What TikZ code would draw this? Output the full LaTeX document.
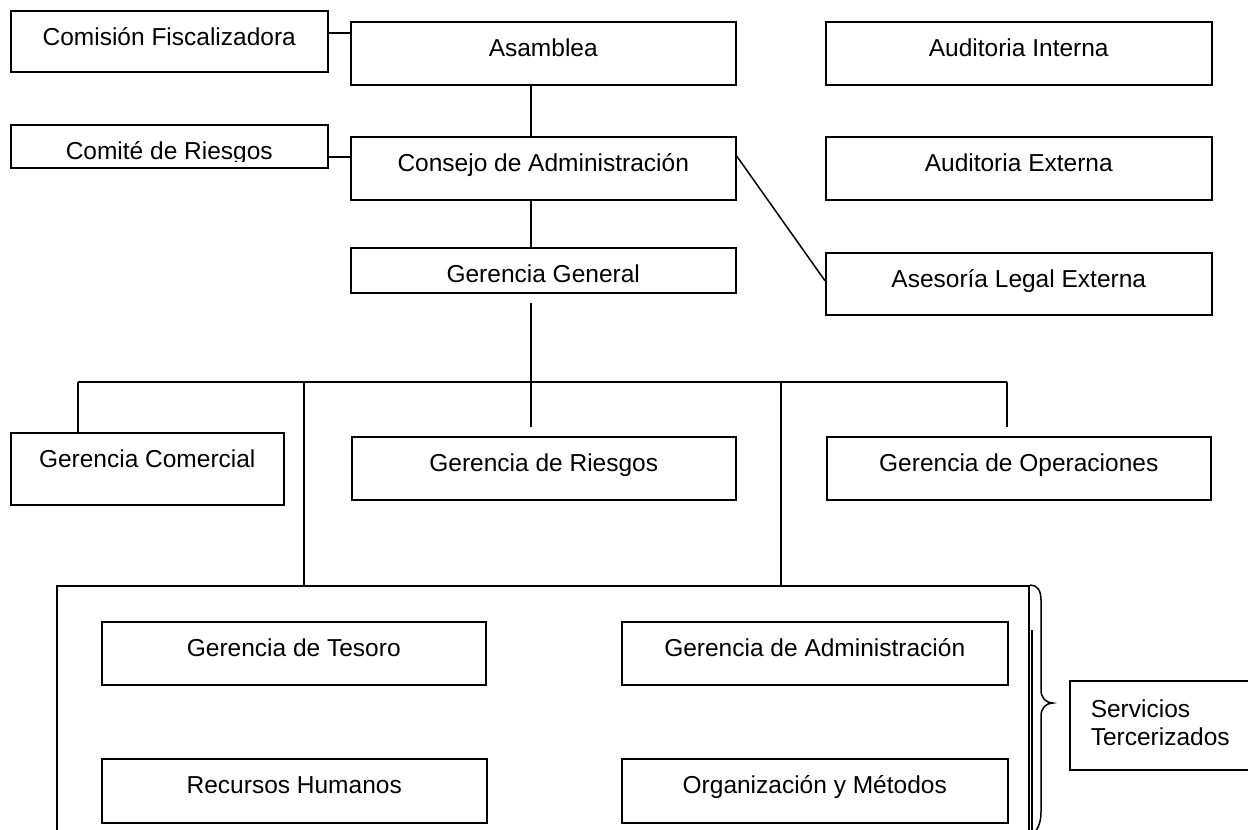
\documentclass[tikz,border=0pt]{standalone}
\usepackage{fontspec}
\setmainfont{Liberation Sans}
\tikzset{caja/.style={draw, anchor=north west, inner sep=0pt, text height=35pt}}

\begin{document}
\begin{tikzpicture}[x=1pt, y=-1pt, line width=1.5pt, font=\fontsize{24.5}{28}\selectfont]
\useasboundingbox (0,0) rectangle (1248,830);

\node[caja, minimum width=317pt, text depth=26pt] (fisc) at (10,10) {Comisión Fiscalizadora};
\node[caja, minimum width=385pt, text depth=28pt] (asam) at (350,21) {Asamblea};
\node[caja, minimum width=386pt, text depth=28pt] (audi) at (825,21) {Auditoria Interna};
\node[caja, minimum width=317pt, text depth=8pt] (comite) at (10,124) {};
\node[caja, minimum width=385pt, text depth=28pt] (consejo) at (350,136) {Consejo de Administración};
\node[caja, minimum width=386pt, text depth=28pt] (aude) at (825,136) {Auditoria Externa};
\node[caja, minimum width=385pt, text depth=10pt] (gg) at (350,247) {};
\node[caja, minimum width=386pt, text depth=27pt] (asesor) at (825,252) {Asesoría Legal Externa};

\begin{scope}
\clip (comite.north west) rectangle ([yshift=7pt]comite.south east);
\node[anchor=base] (comitetxt) at ([yshift=-35pt]comite.north) {Comité de Riesgos};
\end{scope}
\begin{scope}
\clip (gg.north west) rectangle ([yshift=9pt]gg.south east);
\node[anchor=base] (ggtxt) at ([yshift=-35pt]gg.north) {Gerencia General};
\end{scope}

\node[caja, minimum width=273pt, text depth=37pt] (comercial) at (10,432) {Gerencia Comercial};
\node[caja, minimum width=384pt, text depth=28pt] (griesgos) at (351,436) {Gerencia de Riesgos};
\node[caja, minimum width=384pt, text depth=28pt] (operac) at (826,436) {Gerencia de Operaciones};

\node[draw, anchor=north west, inner sep=0pt, minimum width=972pt, minimum height=275pt] (tercer) at (56,585) {};
\node[caja, minimum width=384pt, text depth=28pt] (tesoro) at (101,621) {Gerencia de Tesoro};
\node[caja, minimum width=386pt, text depth=28pt] (admin) at (621,621) {Gerencia de Administración};
\node[caja, minimum width=385pt, text depth=29pt] (rrhh) at (101,758) {Recursos Humanos};
\node[caja, minimum width=386pt, text depth=29pt] (oym) at (621,758) {Organización y Métodos};
\node[caja, text height=37pt, text depth=52pt, inner xsep=21pt, text width=170pt, align=left] (servicios) at (1069,680) {Servicios\\Tercerizados};

\draw ([yshift=8.5pt]fisc.east) -- ++(23,0);
\draw ([yshift=-10.5pt]comite.east) -- ++(23,0);
\coordinate (spine) at (531,0);
\draw (asam.south -| spine) -- (consejo.north -| spine);
\draw (consejo.south -| spine) -- (gg.north -| spine);
\draw ([yshift=12.5pt]consejo.east) -- ([yshift=3pt]asesor.west);

\coordinate (ggpie) at (531,303);
\coordinate (bus) at (531,382);
\coordinate (busL) at (78,382);
\coordinate (busR) at (1007,382);
\coordinate (busT) at (304,382);
\coordinate (busA) at (781,382);
\draw (ggpie) -- (bus);
\draw (busL) -- (busR);
\draw (busL) -- (comercial.north -| busL);
\draw (bus) -- ++(0,45);
\draw (busR) -- ++(0,45);
\draw (busT) -- (tercer.north -| busT);
\draw (busA) -- (tercer.north -| busA);

\draw (1032,630) -- (1032,835);
\draw (1030,585) .. controls (1037,585) and (1041,590) .. (1041,600) -- (1041,690)
  .. controls (1041,698) and (1046,703) .. (1053,703)
  .. controls (1046,703) and (1041,708) .. (1041,716) -- (1041,812)
  .. controls (1041,824) and (1037,831) .. (1031,836);
\end{tikzpicture}
\end{document}
